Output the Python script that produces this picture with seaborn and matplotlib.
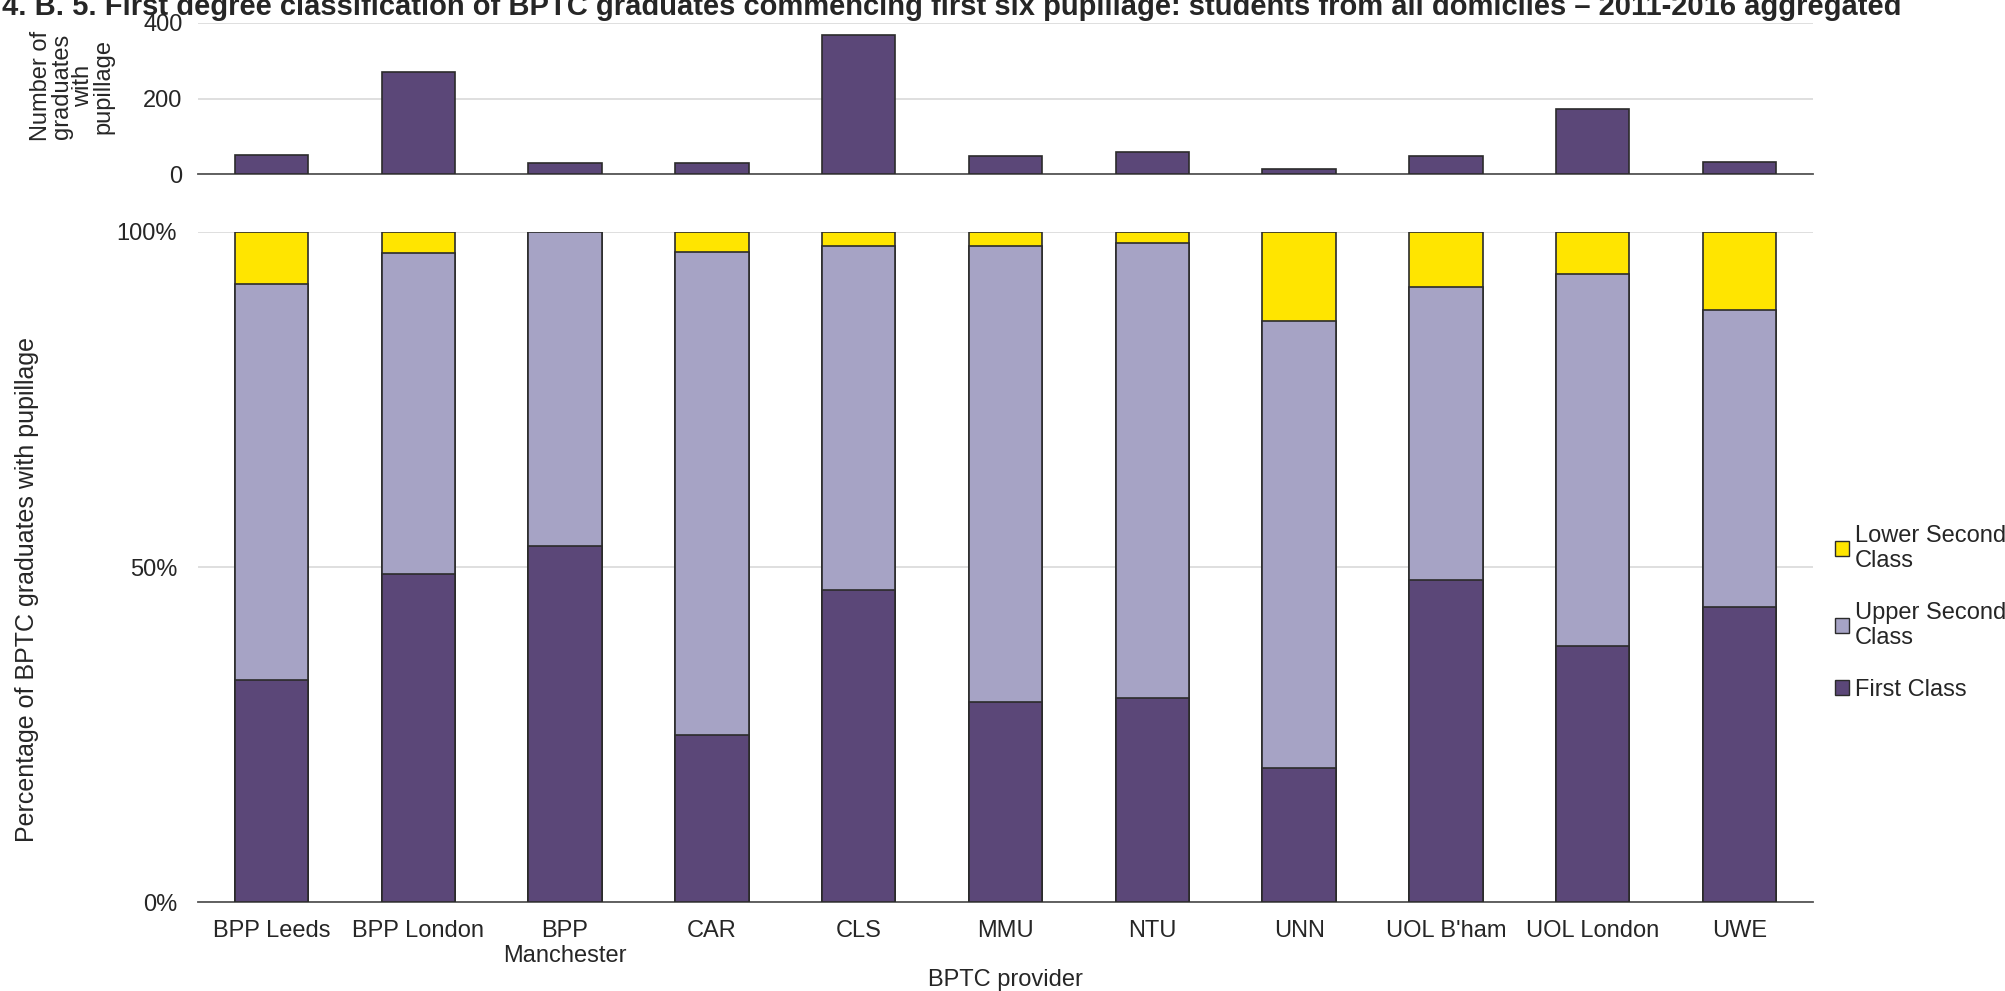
import numpy as np
import pandas as pd
import seaborn as sns
from matplotlib import pyplot as plt
from matplotlib.patches import Patch
from matplotlib.ticker import FixedLocator

providers = ["BPP Leeds", "BPP London", "BPP\nManchester", "CAR", "CLS", "MMU",
             "NTU", "UNN", "UOL B'ham", "UOL London", "UWE"]
graduates = [50, 271, 30, 30, 369, 48, 57, 13, 48, 173, 33]
first_class = [33.2, 49.0, 53.1, 25.0, 46.6, 29.8, 30.5, 20.0, 48.1, 38.2, 44.0]
upper_second = [59.1, 47.8, 46.9, 72.0, 51.3, 68.1, 67.8, 66.7, 43.7, 55.5, 44.4]
lower_second = [7.7, 3.2, 0.0, 3.0, 2.1, 2.1, 1.7, 13.3, 8.2, 6.3, 11.6]

c_first = "#5b4778"
c_upper = "#a6a3c5"
c_lower = "#ffe500"
edge = "#2b2b2b"
grid_c = "#d9d9d9"
fs = 17

sns.set_style("white")
plt.rcParams["font.family"] = ["Liberation Sans", "DejaVu Sans"]

df = pd.DataFrame({
    "provider": providers,
    "graduates": graduates,
    "first": first_class,
    "upper": np.array(first_class) + np.array(upper_second),
    "lower": np.array(first_class) + np.array(upper_second) + np.array(lower_second),
})

fig = plt.figure(figsize=(20.06, 9.91), dpi=100)
ax1 = fig.add_axes([0.0987, 0.8244, 0.8051, 0.1524])
ax2 = fig.add_axes([0.0987, 0.0898, 0.8051, 0.6761])

# top: counts
sns.barplot(data=df, x="provider", y="graduates", order=providers, color=c_first,
            width=0.5, edgecolor=edge, linewidth=1.2, saturation=1, ax=ax1, zorder=3)
ax1.set_ylim(0, 400)
ax1.set_yticks([0, 200, 400])

# bottom: stacked percentages (drawn back to front)
for col, c in [("lower", c_lower), ("upper", c_upper), ("first", c_first)]:
    sns.barplot(data=df, x="provider", y=col, order=providers, color=c,
                width=0.5, edgecolor=edge, linewidth=1.2, saturation=1, ax=ax2, zorder=3)
ax2.set_ylim(0, 100)
ax2.set_yticks([0, 50, 100])
ax2.set_yticklabels(["0%", "50%", "100%"])

for ax in (ax1, ax2):
    ax.set_xlim(-0.5, len(providers) - 0.5)
    for s in ["top", "right", "left"]:
        ax.spines[s].set_visible(False)
    ax.spines["bottom"].set_color("#555555")
    ax.spines["bottom"].set_linewidth(1.3)
    ax.yaxis.grid(True, color=grid_c, linewidth=1.2, zorder=0)
    ax.set_axisbelow(True)
    ax.tick_params(axis="y", length=0, labelsize=fs)
    ax.tick_params(axis="x", which="major", length=0)
    ax.xaxis.set_minor_locator(FixedLocator(np.arange(-0.5, len(providers), 1.0)))
    ax.tick_params(axis="x", which="minor", length=7, width=1.2, color="#555555", direction="out")
    ax.set_xlabel("")
    ax.set_ylabel("")

ax1.tick_params(axis="y", pad=11)
ax2.tick_params(axis="y", pad=15)
ax1.set_xticklabels([])
ax2.set_xticks(range(len(providers)))
ax2.set_xticklabels(providers, fontsize=fs)
ax2.tick_params(axis="x", which="major", pad=13)
ax2.set_xlabel("BPTC provider", fontsize=fs, labelpad=1)

fig.text(0.0135, 0.405, "Percentage of BPTC graduates with pupillage", rotation=90,
         ha="center", va="center", fontsize=18)
fig.text(0.036, 0.913, "Number of\ngraduates\nwith\npupillage", rotation=90,
         ha="center", va="center", fontsize=fs, linespacing=0.92)

fig.text(0.001, 1 - 15 / 991, "4. B. 5. First degree classification of BPTC graduates commencing first six "
         "pupillage: students from all domiciles \u2013 2011-2016 aggregated",
         ha="left", va="baseline", fontsize=21, fontweight="bold")

handles = [Patch(facecolor=c_lower, edgecolor=edge, label="Lower Second\nClass"),
           Patch(facecolor=c_upper, edgecolor=edge, label="Upper Second\nClass"),
           Patch(facecolor=c_first, edgecolor=edge, label="First Class")]
fig.legend(handles=handles, loc="upper left", bbox_to_anchor=(0.910, 0.48),
           frameon=False, fontsize=fs, handlelength=0.6, handleheight=0.6,
           handletextpad=0.25, labelspacing=1.25, borderaxespad=0)

fig.savefig("out.png", dpi=100)
